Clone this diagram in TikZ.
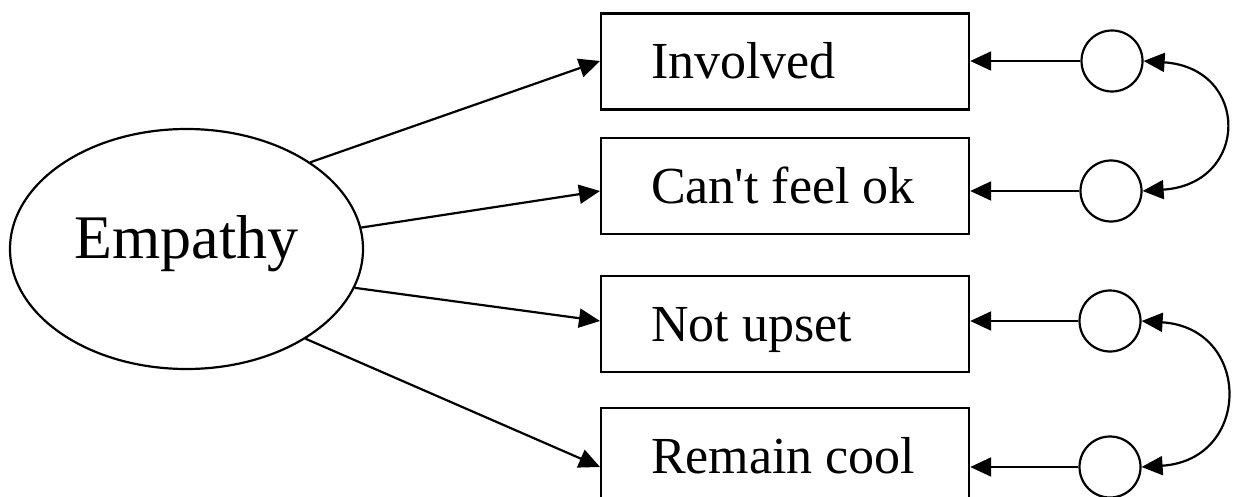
\documentclass[tikz,border=0pt]{standalone}
\usepackage{fontspec}
\setmainfont{Liberation Serif}
\usetikzlibrary{arrows.meta,shapes.geometric}

\newcommand{\itemtext}[1]{\makebox[268pt][l]{#1}}

\tikzset{
  head/.tip={Triangle[length=21pt,width=19pt]},
  arr/.style={line width=2.2pt,-{head}},
  bothways/.style={line width=2.2pt,{head}-{head}},
  latent/.style={ellipse,draw,line width=2.2pt,minimum width=353pt,minimum height=240pt,
    inner sep=0pt,font=\fontsize{62}{70}\selectfont,text height=30pt,text depth=12pt},
  indicator/.style={rectangle,draw,line width=2.2pt,anchor=north west,minimum width=368pt,
    minimum height=96pt,inner xsep=50pt,inner ysep=0pt,
    font=\fontsize{52}{60}\selectfont,text height=40pt,text depth=6pt},
  errterm/.style={circle,draw,line width=2.2pt,minimum size=61pt,inner sep=0pt}
}

\begin{document}
\begin{tikzpicture}[x=1pt,y=-1pt]
\useasboundingbox (0,0) rectangle (1233,497);

% latent factor
\node[latent] (e) at (186.5,249) {Empathy};

% observed items
\node[indicator] (b1) at (600,12.5) {\itemtext{Involved}};
\node[indicator] (b2) at (600,137)  {\itemtext{Can\textquotesingle t feel ok}};
\node[indicator] (b3) at (600,275)  {\itemtext{Not upset}};
\node[indicator] (b4) at (600,407)  {\itemtext{Remain cool}};

% error terms
\node[errterm] (c1) at (1112,61)  {};
\node[errterm] (c2) at (1111,191) {};
\node[errterm] (c3) at (1110,321) {};
\node[errterm] (c4) at (1110,467) {};

% loadings
\draw[arr] (e.35.5)  -- (b1.west |- c1);
\draw[arr] (e.7.5)   -- (b2.west |- c2);
\draw[arr] (e.-13.1) -- (b3.west |- c3);
\draw[arr] (e.-37.8) -- (b4.west |- c4);

% error paths
\draw[arr] (c1.west) -- (c1.west -| b1.east);
\draw[arr] (c2.west) -- (c2.west -| b2.east);
\draw[arr] (c3.west) -- (c3.west -| b3.east);
\draw[arr] (c4.west) -- (c4.west -| b4.east);

% correlated errors
\draw[bothways] (c1.east) .. controls (1250,68) and (1250,184) .. (c2.east);
\draw[bothways] (c3.east) .. controls (1252,328) and (1252,460) .. (c4.east);
\end{tikzpicture}
\end{document}
